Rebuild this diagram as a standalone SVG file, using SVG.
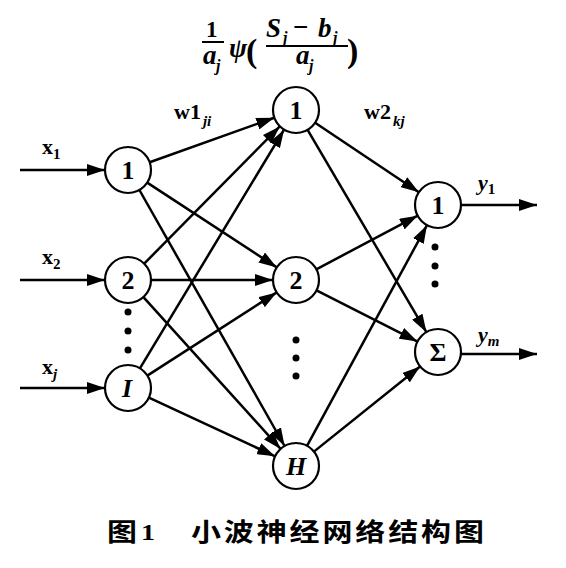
<svg xmlns="http://www.w3.org/2000/svg" width="566" height="568" viewBox="0 0 566 568">
<style>
.n circle{fill:#fff;stroke:#000;stroke-width:2.2}
.n text{font-family:"Liberation Serif",serif;font-weight:bold;font-size:26px;text-anchor:middle}
.it{font-style:italic}
.e line{stroke:#000;stroke-width:2.5;marker-end:url(#ah)}
.lb{font-family:"Liberation Serif",serif;font-weight:bold;font-size:22px}
.sb{font-size:15px;font-style:italic}
.f{font-family:"Liberation Serif",serif;font-weight:bold;font-style:italic;font-size:27px}
.fs{font-size:16px}
.dot{fill:#000}
.cap{font-family:"Noto Sans CJK SC","Noto Sans",sans-serif;font-weight:bold;font-size:30px}
</style>
<defs>
<marker id="ah" markerUnits="userSpaceOnUse" markerWidth="19" markerHeight="12" refX="18" refY="6" orient="auto">
<path d="M0,0 L18,6 L0,12 Z" fill="#000"/>
</marker>
</defs>
<g id="formula">
<text class="f" x="206" y="37" style="font-style:normal;font-size:23px">1</text>
<line x1="202" y1="42" x2="224" y2="42" stroke="#000" stroke-width="2"/>
<text class="f" x="203" y="64">a</text><text class="f fs" x="216" y="71">j</text>
<text class="f" x="229" y="57">ψ</text>
<text class="f" x="246" y="62" style="font-style:normal;font-size:34px">(</text>
<text class="f" x="266" y="37">S</text><text class="f fs" x="283" y="43">j</text>
<text class="f" x="293" y="36" style="font-style:normal">−</text>
<text class="f" x="318" y="37">b</text><text class="f fs" x="333" y="43">j</text>
<line x1="266" y1="46" x2="348" y2="46" stroke="#000" stroke-width="2.2"/>
<text class="f" x="296" y="64">a</text><text class="f fs" x="309" y="71">j</text>
<text class="f" x="347" y="62" style="font-style:normal;font-size:34px">)</text>
</g>
<g id="connectors">
<g class="e">
<line x1="20" y1="170" x2="105" y2="170"/>
<line x1="20" y1="280" x2="105" y2="280"/>
<line x1="20" y1="388" x2="105" y2="388"/>
<line x1="149.7" y1="162.3" x2="274.3" y2="117.7"/>
<line x1="147.2" y1="182.6" x2="276.8" y2="267.4"/>
<line x1="139.4" y1="190" x2="284.6" y2="446"/>
<line x1="144.2" y1="263.6" x2="279.8" y2="126.4"/>
<line x1="151" y1="280" x2="273" y2="280"/>
<line x1="143.4" y1="297.1" x2="280.6" y2="448.9"/>
<line x1="139.9" y1="368.3" x2="284.1" y2="129.7"/>
<line x1="147.3" y1="375.6" x2="276.7" y2="292.4"/>
<line x1="148.9" y1="397.7" x2="275.1" y2="456.3"/>
<line x1="315.1" y1="122.8" x2="418.9" y2="192.2"/>
<line x1="307.6" y1="129.8" x2="426.4" y2="332.2"/>
<line x1="316.3" y1="269.3" x2="417.7" y2="215.7"/>
<line x1="316.5" y1="290.4" x2="417.5" y2="341.6"/>
<line x1="307" y1="445.8" x2="427" y2="225.2"/>
<line x1="313.9" y1="451.6" x2="420.1" y2="366.4"/>
<line x1="461" y1="205" x2="537" y2="205"/>
<line x1="461" y1="354" x2="537" y2="354"/>
</g>
</g>
<g id="in1" class="n"><circle cx="128" cy="170" r="23"/><text x="128" y="179">1</text></g>
<g id="in2" class="n"><circle cx="128" cy="280" r="23"/><text x="128" y="289">2</text></g>
<g id="inI" class="n"><circle cx="128" cy="388" r="23"/><text class="it" x="127" y="397">I</text></g>
<g id="h1" class="n"><circle cx="296" cy="110" r="23"/><text x="296" y="119">1</text></g>
<g id="h2" class="n"><circle cx="296" cy="280" r="23"/><text x="296" y="289">2</text></g>
<g id="hH" class="n"><circle cx="296" cy="466" r="23"/><text class="it" x="296" y="475">H</text></g>
<g id="o1" class="n"><circle cx="438" cy="205" r="23"/><text x="438" y="214">1</text></g>
<g id="oS" class="n"><circle cx="438" cy="352" r="23"/><text x="438" y="361">Σ</text></g>
<g id="dots">
<circle class="dot" cx="128" cy="312" r="3.5"/><circle class="dot" cx="128" cy="331" r="3.5"/><circle class="dot" cx="128" cy="350" r="3.5"/>
<circle class="dot" cx="296" cy="340" r="3.5"/><circle class="dot" cx="296" cy="358" r="3.5"/><circle class="dot" cx="296" cy="376" r="3.5"/>
<circle class="dot" cx="435" cy="247" r="3.5"/><circle class="dot" cx="435" cy="266" r="3.5"/><circle class="dot" cx="435" cy="284" r="3.5"/>
</g>
<g id="labels">
<text class="lb" x="42" y="154">x<tspan class="sb" style="font-style:normal" dy="5">1</tspan></text>
<text class="lb" x="42" y="264">x<tspan class="sb" style="font-style:normal" dy="5">2</tspan></text>
<text class="lb" x="42" y="374">x<tspan class="sb" dy="5">j</tspan></text>
<text class="lb" x="174" y="119">w1<tspan class="sb" dx="2" dy="7">ji</tspan></text>
<text class="lb" x="364" y="119">w2<tspan class="sb" dx="2" dy="7">kj</tspan></text>
<text class="lb" x="478" y="190" style="font-style:italic">y<tspan class="sb" style="font-style:normal" dy="4">1</tspan></text>
<text class="lb" x="478" y="342" style="font-style:italic">y<tspan class="sb" dy="4">m</tspan></text>
</g>
<g id="caption" transform="translate(0,540) scale(1,0.85) translate(0,-540)">
<text class="cap" x="107" y="541">图</text>
<text x="141" y="540" style="font-family:'Liberation Serif',serif;font-weight:bold;font-size:28px">1</text>
<text class="cap" x="191" y="541" textLength="293" lengthAdjust="spacing">小波神经网络结构图</text>
</g>
</svg>
